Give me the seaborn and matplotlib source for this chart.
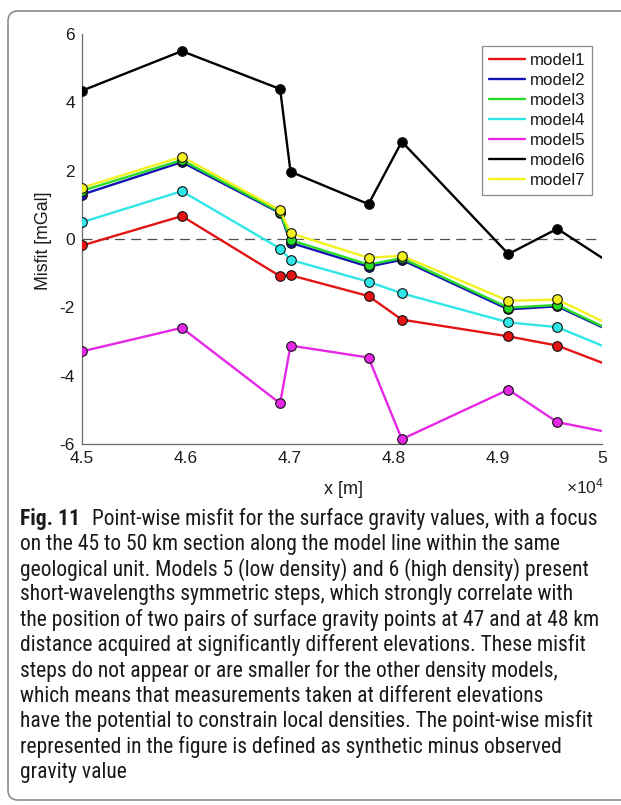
import numpy as np
import pandas as pd
import matplotlib
matplotlib.use("Agg")
import matplotlib.pyplot as plt
import matplotlib.patches as mpatches
from matplotlib.lines import Line2D
from matplotlib import font_manager
import seaborn as sns

# ---------------- data ----------------
x_pos = [45000, 45960, 46905, 47005, 47755, 48075, 49100, 49570, 50000]
models = ["model1", "model2", "model3", "model4", "model5", "model6", "model7"]
model1 = [-0.19, 0.67, -1.09, -1.06, -1.67, -2.36, -2.85, -3.12, -3.62]
model2 = [1.30, 2.25, 0.76, -0.11, -0.81, -0.61, -2.06, -1.97, -2.58]
model3 = [1.41, 2.31, 0.79, -0.03, -0.75, -0.56, -2.01, -1.93, -2.55]
model4 = [0.49, 1.40, -0.28, -0.61, -1.25, -1.59, -2.44, -2.58, -3.12]
model5 = [-3.29, -2.60, -4.81, -3.12, -3.47, -5.86, -4.41, -5.36, -5.62]
model6 = [4.34, 5.50, 4.39, 1.97, 1.02, 2.85, -0.44, 0.30, -0.55]
model7 = [1.50, 2.41, 0.84, 0.17, -0.55, -0.49, -1.81, -1.77, -2.40]
values = [model1, model2, model3, model4, model5, model6, model7]
colors = ["#e41414", "#1414b4", "#28dc28", "#30e6e6", "#e628e6", "#000000", "#f2f21e"]
n_markers = 8  # last point is where the line leaves the axes (no marker)

xticks = [45000, 46000, 47000, 48000, 49000, 50000]
xtick_labels = ["4.5", "4.6", "4.7", "4.8", "4.9", "5"]
yticks = [-6, -4, -2, 0, 2, 4, 6]
ytick_labels = ["-6", "-4", "-2", "0", "2", "4", "6"]

caption_bold = "Fig. 11"
caption_lines = [
    "Point-wise misfit for the surface gravity values, with a focus",
    "on the 45 to 50 km section along the model line within the same",
    "geological unit. Models 5 (low density) and 6 (high density) present",
    "short-wavelengths symmetric steps, which strongly correlate with",
    "the position of two pairs of surface gravity points at 47 and at 48 km",
    "distance acquired at significantly different elevations. These misfit",
    "steps do not appear or are smaller for the other density models,",
    "which means that measurements taken at different elevations",
    "have the potential to constrain local densities. The point-wise misfit",
    "represented in the figure is defined as synthetic minus observed",
    "gravity value",
]

# ---------------- style ----------------
sns.set_theme(style="white")
names = {f.name for f in font_manager.fontManager.ttflist}
main_family = "Liberation Sans" if "Liberation Sans" in names else ("Arimo" if "Arimo" in names else "DejaVu Sans")
plt.rcParams["font.family"] = [main_family, "DejaVu Sans"]
plt.rcParams["axes.unicode_minus"] = False
plt.rcParams["mathtext.fontset"] = "custom"
plt.rcParams["mathtext.rm"] = main_family
plt.rcParams["mathtext.it"] = main_family + ":italic"

cap_family = None
for cand in ["Liberation Sans Narrow", "Roboto Condensed", "Open Sans Condensed", "Lato", "Roboto"]:
    if cand in names:
        cap_family = cand
        break
if cap_family is None:
    cap_family = "DejaVu Sans"

W, H = 621, 805
fig = plt.figure(figsize=(W / 100, H / 100), dpi=100)

def fx(px):
    return px / W

def fy(py):
    return 1 - py / H

ax = fig.add_axes([fx(82), fy(444), (602 - 82) / W, (444 - 34) / H])

df = pd.DataFrame({
    "x": np.tile(x_pos, len(models)),
    "misfit": np.concatenate(values),
    "model": np.repeat(models, len(x_pos)),
})

ax.axhline(0, color="#505050", lw=0.9, ls=(0, (8, 5)), zorder=1)

for i, (m, c) in enumerate(zip(models, colors)):
    sub = df[df["model"] == m]
    sns.lineplot(data=sub, x="x", y="misfit", color=c, lw=1.7, sort=False,
                 estimator=None, ax=ax, zorder=3 + 2 * i, legend=False)
    pts = sub.iloc[:n_markers]
    sns.scatterplot(data=pts, x="x", y="misfit", color=c, s=48,
                    edgecolor="#111111", linewidth=0.8, ax=ax,
                    zorder=4 + 2 * i, legend=False)

ax.set_xlim(45000, 50000)
ax.set_ylim(-6, 6)
ax.set_xticks(xticks)
ax.set_xticklabels(xtick_labels)
ax.set_yticks(yticks)
ax.set_yticklabels(ytick_labels)
ax.set_xlabel("")
ax.set_ylabel("")
for s in ["top", "right"]:
    ax.spines[s].set_visible(False)
for s in ["left", "bottom"]:
    ax.spines[s].set_color("#6a6a6a")
    ax.spines[s].set_linewidth(0.9)
ax.tick_params(axis="both", direction="in", length=4, width=0.8, color="#6a6a6a",
               labelsize=12.5, labelcolor="#1e1e1e")
ax.tick_params(axis="x", pad=5)
ax.tick_params(axis="y", pad=5)
ax.set_facecolor("white")
ax.grid(False)

handles = [Line2D([], [], color=c, lw=1.7) for c in colors]
leg = ax.legend(handles, models, loc="upper right",
                bbox_to_anchor=(fx(592), fy(46)), bbox_transform=fig.transFigure,
                borderaxespad=0, fontsize=12.2, frameon=True, fancybox=False,
                framealpha=1, edgecolor="#8a8a8a", handlelength=2.1,
                handletextpad=0.3, labelspacing=0.3, borderpad=0.4)
leg.get_frame().set_linewidth(0.9)
for t in leg.get_texts():
    t.set_color("#1a1a1a")

fig.text(fx(43), fy(241), "Misfit [mGal]", rotation=90, ha="center", va="center",
         fontsize=12.8, color="#1a1a1a")
fig.text(fx(343), fy(489), "x [m]", ha="center", va="center", fontsize=13,
         color="#1a1a1a")
fig.text(fx(604), fy(486), r"$\times$10$^4$", ha="right", va="center", fontsize=12.5,
         color="#262626")

# border (rounded box going off the right edge)
border = mpatches.FancyBboxPatch((8, 5), 720, 789,
                                 boxstyle="round,pad=0,rounding_size=10",
                                 transform=None, facecolor="none",
                                 edgecolor="#8c8c8c", lw=1.2)
fig.patches.append(border)

# caption: fit size to the widest line
fig.canvas.draw()
renderer = fig.canvas.get_renderer()
probe = fig.text(0, 0, caption_lines[4], fontsize=14, family=[cap_family, "DejaVu Sans"])
wpx = probe.get_window_extent(renderer).width
probe.remove()
cap_size = 14 * 583 / wpx

x0 = 20
y_first = 519
step = 25.3
tb = fig.text(fx(x0), fy(y_first), caption_bold, fontsize=cap_size, fontweight="bold",
              family=[cap_family, "DejaVu Sans"], ha="left", va="center", color="#1a1a1a")
bw = tb.get_window_extent(renderer).width
for k, line in enumerate(caption_lines):
    xx = x0 + (bw + 0.55 * cap_size * 100 / 72 if k == 0 else 0)
    fig.text(fx(xx), fy(y_first + k * step), line, fontsize=cap_size,
             family=[cap_family, "DejaVu Sans"], ha="left", va="center", color="#1a1a1a")

fig.savefig("out.png", dpi=100, facecolor="white")
